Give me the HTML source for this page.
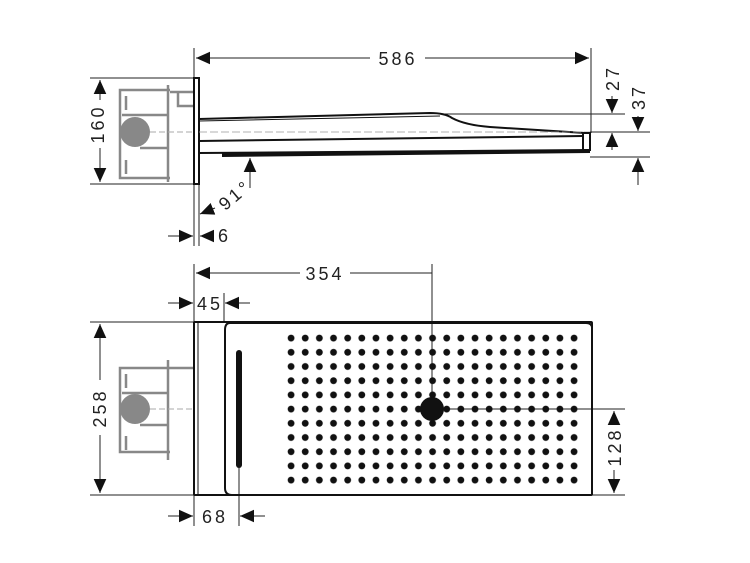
<!DOCTYPE html>
<html><head><style>
html,body{margin:0;padding:0;background:#fff}
svg{display:block}
text{font-family:"Liberation Sans",sans-serif;font-size:18px;fill:#222;letter-spacing:3px}
</style></head><body>
<svg width="750" height="563" viewBox="0 0 750 563" xmlns="http://www.w3.org/2000/svg">
<defs>
<marker id="a" viewBox="0 0 10 10" refX="10" refY="5" markerWidth="14" markerHeight="14" markerUnits="userSpaceOnUse" orient="auto-start-reverse"><path d="M0,0.5 L10,5 L0,9.5 z" fill="#111"/></marker>
<pattern id="dots" x="284" y="331" width="14.15" height="14.2" patternUnits="userSpaceOnUse"><circle cx="7.07" cy="7.1" r="3.4" fill="#111"/></pattern>
</defs>
<g stroke="#222" fill="none" stroke-width="1">
<line x1="194" y1="48" x2="194" y2="78"/>
<line x1="591" y1="48" x2="591" y2="133"/>
<line x1="196" y1="58" x2="370" y2="58" marker-start="url(#a)"/>
<line x1="425" y1="58" x2="589" y2="58" marker-end="url(#a)"/>
<line x1="90" y1="78" x2="195" y2="78"/>
<line x1="90" y1="184" x2="195" y2="184"/>
<line x1="100" y1="80" x2="100" y2="100" marker-start="url(#a)"/>
<line x1="100" y1="148" x2="100" y2="182" marker-end="url(#a)"/>
<line x1="440" y1="114" x2="625" y2="114"/>
<line x1="590" y1="132" x2="650" y2="132"/>
<line x1="590" y1="157" x2="650" y2="157"/>
<line x1="612" y1="96" x2="612" y2="113" marker-end="url(#a)"/>
<line x1="612" y1="133" x2="612" y2="150" marker-start="url(#a)"/>
<line x1="638" y1="116" x2="638" y2="131" marker-end="url(#a)"/>
<line x1="638" y1="158" x2="638" y2="185" marker-start="url(#a)"/>
<line x1="194" y1="184" x2="194" y2="246"/>
<line x1="199" y1="184" x2="199" y2="246"/>
<line x1="168" y1="236" x2="193" y2="236" marker-end="url(#a)"/>
<line x1="214" y1="236" x2="200" y2="236" marker-end="url(#a)"/>
<line x1="215" y1="208" x2="200" y2="214" marker-end="url(#a)"/>
<line x1="250" y1="188" x2="250" y2="158" marker-end="url(#a)"/>
</g>
<text x="99" y="124" transform="rotate(-90 99 124)" text-anchor="middle" dominant-baseline="middle">160</text>
<text x="398" y="65" text-anchor="middle">586</text>
<text x="614" y="78" transform="rotate(-90 614 78)" text-anchor="middle" dominant-baseline="middle">27</text>
<text x="640" y="97" transform="rotate(-90 640 97)" text-anchor="middle" dominant-baseline="middle">37</text>
<text x="218" y="242">6</text>
<text x="236" y="196" transform="rotate(-40 236 196)" text-anchor="middle" dominant-baseline="middle">91°</text>
<g stroke="#888" fill="none" stroke-width="2.5">
<path d="M170,90 H120 V178 H170"/>
<line x1="168" y1="85" x2="168" y2="182"/>
<line x1="122" y1="115" x2="168" y2="115"/>
<line x1="140" y1="148" x2="168" y2="148"/>
<path d="M170,92 H194 M178,92 V106 H194"/>
<path d="M126,96 v14 M126,160 v14"/>
</g>
<circle cx="135" cy="132" r="15" fill="#888"/>
<line x1="150" y1="132" x2="195" y2="132" stroke="#aaa" stroke-dasharray="6 3"/>
<rect x="194" y="78" width="5" height="106" fill="#fff" stroke="#111" stroke-width="2"/>
<g stroke="#111" fill="none">
<path d="M199,119 L430,113 Q445,113 452,118 Q465,125 490,127 L585,133" stroke-width="2"/>
<line x1="199" y1="121" x2="440" y2="116"/>
<line x1="199" y1="132" x2="590" y2="132" stroke="#999" stroke-dasharray="8 3" stroke-width="0.8"/>
<path d="M199,141 L583,136" stroke-width="2"/>
<line x1="199" y1="153" x2="590" y2="150" stroke-width="2"/>
<rect x="583" y="133" width="7" height="17" stroke-width="2"/>
</g>
<path d="M222,153 L590,150 L590,153 L222,157 z" fill="#111"/>
<g stroke="#222" fill="none" stroke-width="1">
<line x1="194" y1="264" x2="194" y2="322"/>
<line x1="224" y1="293" x2="224" y2="322"/>
<line x1="432" y1="264" x2="432" y2="400"/>
<line x1="196" y1="273" x2="300" y2="273" marker-start="url(#a)"/>
<line x1="350" y1="273" x2="432" y2="273"/>
<line x1="168" y1="303" x2="193" y2="303" marker-end="url(#a)"/>
<line x1="250" y1="303" x2="225" y2="303" marker-end="url(#a)"/>
<line x1="90" y1="322" x2="194" y2="322"/>
<line x1="90" y1="495" x2="194" y2="495"/>
<line x1="100" y1="324" x2="100" y2="380" marker-start="url(#a)"/>
<line x1="100" y1="435" x2="100" y2="493" marker-end="url(#a)"/>
<line x1="194" y1="495" x2="194" y2="526"/>
<line x1="239" y1="467" x2="239" y2="526"/>
<line x1="168" y1="516" x2="193" y2="516" marker-end="url(#a)"/>
<line x1="265" y1="516" x2="240" y2="516" marker-end="url(#a)"/>
<line x1="440" y1="409" x2="625" y2="409"/>
<line x1="592" y1="495" x2="625" y2="495"/>
<line x1="614" y1="411" x2="614" y2="425" marker-start="url(#a)"/>
<line x1="614" y1="470" x2="614" y2="493" marker-end="url(#a)"/>
</g>
<text x="325" y="280" text-anchor="middle">354</text>
<text x="210" y="310" text-anchor="middle">45</text>
<text x="215" y="523" text-anchor="middle">68</text>
<text x="101" y="408" transform="rotate(-90 101 408)" text-anchor="middle" dominant-baseline="middle">258</text>
<text x="616" y="447" transform="rotate(-90 616 447)" text-anchor="middle" dominant-baseline="middle">128</text>
<g stroke="#888" fill="none" stroke-width="2.5">
<path d="M170,368 H120 V452 H170"/>
<line x1="168" y1="360" x2="168" y2="460"/>
<line x1="122" y1="393" x2="168" y2="393"/>
<line x1="140" y1="425" x2="168" y2="425"/>
<path d="M170,368 H194"/>
<path d="M126,374 v14 M126,436 v14"/>
</g>
<circle cx="135" cy="409" r="15" fill="#888"/>
<line x1="150" y1="409" x2="195" y2="409" stroke="#aaa" stroke-dasharray="6 3"/>
<g stroke="#111" fill="none" stroke-width="2">
<rect x="194" y="322" width="398" height="173" rx="1"/>
<line x1="198" y1="322" x2="198" y2="495" stroke-width="1"/>
<path d="M592,328 Q592,323 586,323 H230 Q225,323 225,330 V488 Q225,495 232,495"/>
</g>
<rect x="236" y="350" width="6" height="118" rx="3" fill="#111"/>
<rect x="284" y="331" width="297" height="156" fill="url(#dots)"/>
<circle cx="432" cy="409" r="12" fill="#111"/>
</svg>
</body></html>
